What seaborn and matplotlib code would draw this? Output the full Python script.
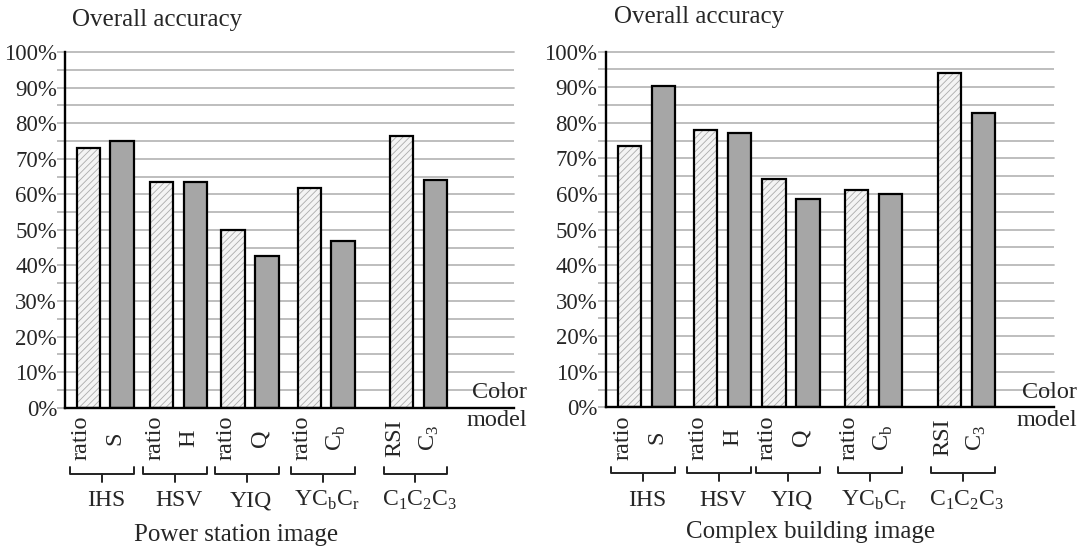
import numpy as np
import pandas as pd
import seaborn as sns
import matplotlib.pyplot as plt
from matplotlib import transforms

# values (overall accuracy, %)
groups = ['IHS', 'HSV', 'YIQ', r'YC$_\mathrm{b}$C$_\mathrm{r}$', r'C$_\mathrm{1}$C$_\mathrm{2}$C$_\mathrm{3}$']
light_labels = ['ratio', 'ratio', 'ratio', 'ratio', 'RSI']
dark_labels = ['S', 'H', 'Q', r'C$_\mathrm{b}$', r'C$_\mathrm{3}$']

power_light = [73.0, 63.4, 50.1, 61.9, 76.5]
power_dark = [74.9, 63.6, 42.8, 47.0, 64.1]
building_light = [73.6, 78.0, 64.1, 61.0, 94.1]
building_dark = [90.4, 77.2, 58.6, 60.1, 82.8]

sns.set_theme(style='white')
plt.rcParams['font.family'] = ['Liberation Serif', 'DejaVu Serif']
plt.rcParams['mathtext.fontset'] = 'custom'
plt.rcParams['mathtext.rm'] = 'Liberation Serif'
plt.rcParams['hatch.linewidth'] = 0.6

fig = plt.figure(figsize=(10.89, 5.49), dpi=100)


def draw(rect, light, dark, starts, xlim):
    ax = fig.add_axes(rect)
    pos = list(starts) + [s + 1 for s in starts]
    df = pd.DataFrame({'pos': pos, 'val': light + dark,
                       'kind': ['light'] * 5 + ['dark'] * 5})
    sns.barplot(data=df, x='pos', y='val', hue='kind', hue_order=['light', 'dark'],
                palette={'light': '#f4f4f4', 'dark': '#a6a6a6'}, saturation=1,
                native_scale=True, width=0.685, dodge=False, errorbar=None,
                linewidth=0, legend=False, ax=ax)
    for bar in ax.containers[0]:
        bar.set_hatch('/////')
        bar.set_edgecolor('#ababab')
        bar.set_linewidth(0)
    # black outlines on top
    sns.barplot(data=df, x='pos', y='val', native_scale=True, width=0.685,
                fill=False, color='black', linewidth=1.6, errorbar=None, ax=ax)

    ax.set_xlim(*xlim)
    ax.set_ylim(0, 100)
    ax.set_xticks([])
    ax.set_xlabel('')
    ax.set_ylabel('')
    ax.set_yticks(range(0, 101, 10))
    ax.set_yticks(range(5, 100, 10), minor=True)
    ax.set_yticklabels([f'{v}%' for v in range(0, 101, 10)], fontsize=16.5)
    ax.yaxis.grid(True, which='both', color='#b9b9b9', lw=1.3)
    for ln in ax.get_ygridlines():
        ln.set_clip_on(False)
    ax.set_axisbelow(True)
    ax.tick_params(axis='y', which='both', direction='out', length=6, width=1.3,
                   color='#b9b9b9', pad=0, left=True)
    ax.yaxis.get_major_ticks()[0].tick1line.set_color('black')
    for side in ['top', 'right']:
        ax.spines[side].set_visible(False)
    for side in ['left', 'bottom']:
        ax.spines[side].set_color('black')
        ax.spines[side].set_linewidth(1.7)

    tr = transforms.blended_transform_factory(ax.transData, ax.transAxes)
    for i, s in enumerate(starts):
        ax.text(s - 0.2, -0.085, light_labels[i], transform=tr, rotation=90,
                ha='center', va='center', fontsize=17.5)
        ax.text(s + 1 - 0.2, -0.085, dark_labels[i], transform=tr, rotation=90,
                ha='center', va='center', fontsize=17.5)
        xl, xr = s - 0.54, s + 1.34
        mid = (xl + xr) / 2
        ax.plot([xl, xl, xr, xr], [-0.167, -0.186, -0.186, -0.167], transform=tr,
                clip_on=False, color='#222222', lw=1.4)
        ax.plot([mid, mid], [-0.186, -0.208], transform=tr, clip_on=False,
                color='#222222', lw=1.4)
        ax.text(mid + 0.12, -0.261, groups[i], transform=tr, ha='center',
                va='center', fontsize=17)
    return ax


draw([0.0601, 0.2572, 0.4118, 0.6481], power_light, power_dark,
     [0, 2.16, 4.27, 6.51, 9.24], (-0.668, 12.54))
draw([0.5562, 0.2581, 0.4121, 0.6477], building_light, building_dark,
     [0, 2.23, 4.25, 6.67, 9.41], (-0.70, 12.5))

fig.text(71.7 / 1089, 1 - 20 / 549, 'Overall accuracy', ha='left', va='center', fontsize=18)
fig.text(614 / 1089, 1 - 17.5 / 549, 'Overall accuracy', ha='left', va='center', fontsize=18)
fig.text(235.8 / 1089, 1 - 535 / 549, 'Power station image', ha='center', va='center', fontsize=18)
fig.text(810.7 / 1089, 1 - 531.7 / 549, 'Complex building image', ha='center', va='center', fontsize=18)
for xr in [527, 1077]:
    fig.text(xr / 1089, 1 - 392.7 / 549, 'Color', ha='right', va='center', fontsize=17.5)
    fig.text(xr / 1089, 1 - 420 / 549, 'model', ha='right', va='center', fontsize=17.5)

fig.savefig('out.png', dpi=100)
